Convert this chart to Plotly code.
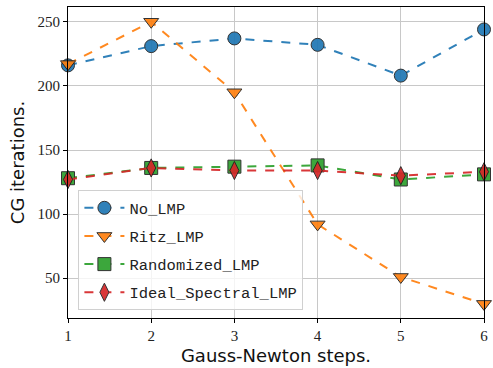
import plotly.graph_objects as go

steps = [1, 2, 3, 4, 5, 6]
no_lmp = [216, 231, 237, 232, 208, 244]
ritz_lmp = [217, 250, 195, 92, 51, 30]
randomized_lmp = [128, 136, 137, 138, 127, 131]
ideal_spectral_lmp = [127, 136, 134, 134, 130, 133]

series = [
    ("No_LMP", no_lmp, "#1f77b4", "circle"),
    ("Ritz_LMP", ritz_lmp, "#ff7f0e", "triangle-down"),
    ("Randomized_LMP", randomized_lmp, "#2ca02c", "square"),
    ("Ideal_Spectral_LMP", ideal_spectral_lmp, "#d62728", "diamond-tall"),
]

fig = go.Figure()
for name, vals, color, sym in series:
    fig.add_trace(go.Scatter(
        x=steps, y=vals, name=name, mode="lines+markers", legendgroup=name,
        line=dict(color=color, width=2, dash="dash"),
        marker=dict(symbol=sym, size=13, color=color,
                    line=dict(color="#222222", width=1)),
        opacity=0.92, cliponaxis=False,
    ))

axis_common = dict(
    showline=True, linecolor="black", linewidth=1, mirror=True,
    ticks="outside", ticklen=4, tickcolor="black",
    showgrid=True, gridcolor="#c8c8c8", gridwidth=1,
    zeroline=False,
    tickfont=dict(family="Liberation Serif, DejaVu Serif, serif", size=15, color="#222"),
)

fig.update_layout(
    width=493, height=368,
    margin=dict(l=68, r=5, t=7, b=48),
    paper_bgcolor="white", plot_bgcolor="white",
    xaxis=dict(range=[1, 6], tickvals=steps, **axis_common,
               title=dict(text="Gauss-Newton steps.", standoff=6,
                          font=dict(family="DejaVu Sans, sans-serif", size=18, color="#111"))),
    yaxis=dict(range=[19, 261.5], tickvals=[50, 100, 150, 200, 250], **axis_common,
               title=dict(text="CG iterations.", standoff=8,
                          font=dict(family="DejaVu Sans, sans-serif", size=18, color="#111"))),
    legend=dict(
        x=0.025, y=0.025, xanchor="left", yanchor="bottom",
        bgcolor="rgba(255,255,255,0.8)", bordercolor="#d0d0d0", borderwidth=1,
        font=dict(family="Liberation Mono, DejaVu Sans Mono, monospace", size=15.5, color="#222"),
        itemwidth=40, tracegroupgap=5,
    ),
    showlegend=True,
)

fig.write_html("out.html", config={"displayModeBar": False},
               post_script="document.body.style.margin='0';")
